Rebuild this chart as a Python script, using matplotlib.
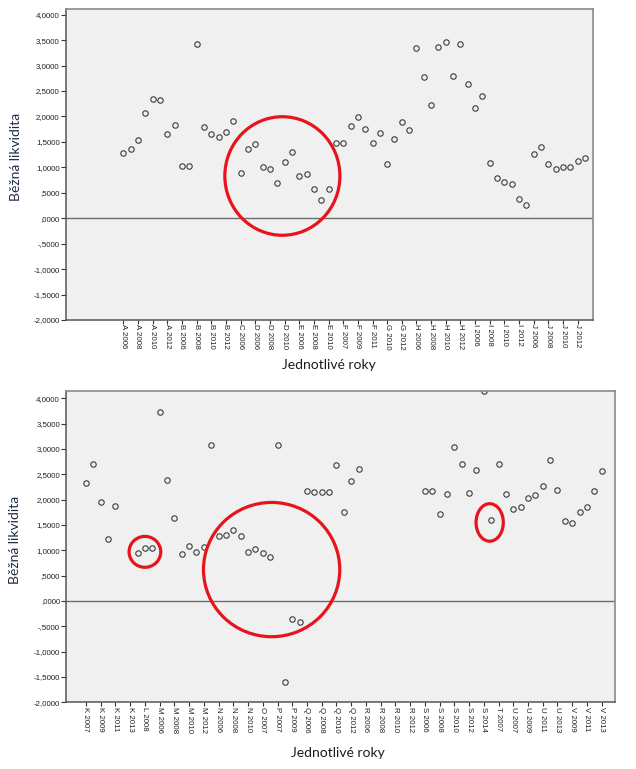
import numpy as np
import matplotlib.pyplot as plt
from matplotlib.patches import Ellipse
from matplotlib.ticker import FuncFormatter

# categories (firm + year) and current liquidity values
top_categories = ["A 2006", "A 2007", "A 2008", "A 2009", "A 2010", "A 2011", "A 2012", "A 2013",
                  "B 2006", "B 2007", "B 2008", "B 2009", "B 2010", "B 2011", "B 2012", "B 2013",
                  "C 2006", "C 2007",
                  "D 2006", "D 2007", "D 2008", "D 2009", "D 2010", "D 2011",
                  "E 2006", "E 2007", "E 2008", "E 2009", "E 2010", "E 2011",
                  "F 2007", "F 2008", "F 2009", "F 2010", "F 2011", "F 2012",
                  "G 2010", "G 2011", "G 2012", "G 2013",
                  "H 2006", "H 2007", "H 2008", "H 2009", "H 2010", "H 2011", "H 2012", "H 2013",
                  "I 2006", "I 2007", "I 2008", "I 2009", "I 2010", "I 2011", "I 2012", "I 2013",
                  "J 2006", "J 2007", "J 2008", "J 2009", "J 2010", "J 2011", "J 2012", "J 2013"]
top_values = [1.285, 1.364, 1.541, 2.059, 2.348, 2.321, 1.646, 1.830,
              1.023, 1.023, 3.423, 1.790, 1.659, 1.587, 1.685, 1.915,
              0.892, 1.370,
              1.456, 1.003, 0.964, 0.702, 1.102, 1.298,
              0.826, 0.866, 0.570, 0.361, 0.570, 1.475,
              1.475, 1.803, 1.993, 1.757, 1.482, 1.679,
              1.075, 1.548, 1.889, 1.725,
              3.344, 2.767, 2.230, 3.364, 3.462, 2.793, 3.416, 2.636,
              2.164, 2.407, 1.082, 0.800, 0.708, 0.675, 0.380, 0.269,
              1.266, 1.390, 1.069, 0.970, 0.997, 0.997, 1.134, 1.193]

bottom_categories = ["K 2007", "K 2008", "K 2009", "K 2010", "K 2011", "K 2012", "K 2013",
                     "L 2007", "L 2008", "L 2009",
                     "M 2006", "M 2007", "M 2008", "M 2009", "M 2010", "M 2011", "M 2012", "M 2013",
                     "N 2006", "N 2007", "N 2008", "N 2009", "N 2010", "N 2011",
                     "O 2007", "O 2008",
                     "P 2007", "P 2008", "P 2009", "P 2010",
                     "Q 2006", "Q 2007", "Q 2008", "Q 2009", "Q 2010", "Q 2011", "Q 2012", "Q 2013",
                     "R 2006", "R 2007", "R 2008", "R 2009", "R 2010", "R 2011", "R 2012", "R 2013",
                     "S 2006", "S 2007", "S 2008", "S 2009", "S 2010", "S 2011", "S 2012", "S 2013", "S 2014",
                     "T 2006", "T 2007", "T 2008",
                     "U 2007", "U 2008", "U 2009", "U 2010", "U 2011", "U 2012", "U 2013",
                     "V 2008", "V 2009", "V 2010", "V 2011", "V 2012", "V 2013"]
nan = np.nan
bottom_values = [2.322, 2.704, 1.961, 1.230, 1.875, nan, nan,
                 0.954, 1.053, 1.046,
                 3.724, 2.382, 1.638, 0.934, 1.092, 0.961, 1.059, 3.079,
                 1.283, 1.303, 1.408, 1.276, 0.961, 1.033,
                 0.947, 0.868,
                 3.079, -1.599, -0.349, -0.414,
                 2.164, 2.151, 2.151, 2.158, 2.691, 1.757, 2.375, 2.599,
                 nan, nan, nan, nan, nan, nan, nan, nan,
                 2.178, 2.178, 1.724, 2.112, 3.039, 2.697, 2.132, 2.592, 4.150,
                 1.592, 2.711, 2.105,
                 1.822, 1.849, 2.026, 2.092, 2.270, 2.789, 2.197,
                 1.579, 1.533, 1.757, 1.855, 2.171, 2.559]

# red hand-drawn highlights: (category index, value, width in categories, height in value units)
top_circles = [(21.7, 0.83, 15.7, 2.33)]
bottom_circles = [(8.0, 0.97, 4.3, 0.61), (25.2, 0.62, 18.5, 2.65), (54.8, 1.55, 3.7, 0.74)]

yticks = np.arange(-2.0, 4.01, 0.5)


def cz_format(v, pos=None):
    s = "%.4f" % abs(v)
    if abs(v) < 1:
        s = s[1:]
    s = s.replace(".", ",")
    if v < -1e-9:
        s = "-" + s
    return s


def scatter_panel(rect, categories, values, circles, xlim, ytop, xlab_pos, ylab_pos):
    ax = fig.add_axes(rect)
    ax.set_facecolor("#f0f0f0")
    x = np.arange(len(categories))
    ax.plot(x, values, linestyle="none", marker="o", markersize=3.9,
            markerfacecolor="none", markeredgecolor="#3c3c3c", markeredgewidth=0.8)
    ax.axhline(0, color="#6c6c6c", linewidth=1.0, zorder=1)
    for cx, cy, w, h in circles:
        ax.add_patch(Ellipse((cx, cy), w, h, fill=False, edgecolor="#e8141c",
                             linewidth=2.3, zorder=5))
    ax.set_xlim(xlim)
    ax.set_ylim(-2.0, ytop)
    ax.set_yticks(yticks)
    ax.yaxis.set_major_formatter(FuncFormatter(cz_format))
    ax.set_xticks(x[::2])
    ax.set_xticklabels(categories[::2], rotation=270)
    ax.tick_params(axis="y", length=3.8, width=0.8, color="#333333", pad=0.5,
                   labelsize=5.7, labelcolor="#222222")
    ax.tick_params(axis="x", length=2.8, width=0.8, color="#333333", pad=0.3,
                   labelsize=5.7, labelcolor="#222222")
    for lab in ax.get_xticklabels() + ax.get_yticklabels():
        lab.set_family("Liberation Sans")
    for side in ["top", "right"]:
        ax.spines[side].set_color("#8a8a8a")
        ax.spines[side].set_linewidth(1.2)
    for side in ["left", "bottom"]:
        ax.spines[side].set_color("#555555")
        ax.spines[side].set_linewidth(1.1)
    ax.set_xlabel("Jednotlivé roky", fontsize=10, family="Lato", color="#1a1a1a")
    ax.set_ylabel("Běžná likvidita", fontsize=10, family="Lato", color="#1f2e44")
    ax.xaxis.set_label_coords(*xlab_pos)
    ax.yaxis.set_label_coords(*ylab_pos)
    return ax


fig = plt.figure(figsize=(6.36, 7.69), dpi=100)

scatter_panel([0.1033, 0.5839, 0.8286, 0.4044], top_categories, top_values, top_circles,
              (-7.86, 64.04), 4.112, (0.5, -0.125), (-0.082, 0.525))
scatter_panel([0.1038, 0.0867, 0.8627, 0.4048], bottom_categories, bottom_values, bottom_circles,
              (-2.71, 71.77), 4.144, (0.495, -0.143), (-0.082, 0.521))

plt.savefig("out.png", dpi=100)
